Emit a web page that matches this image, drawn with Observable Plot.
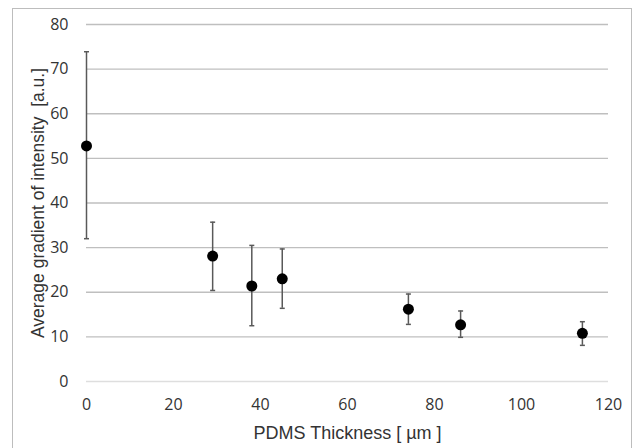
<!DOCTYPE html>
<html>
<head>
<meta charset="utf-8">
<script src="https://cdn.jsdelivr.net/npm/d3@7"></script>
<script src="https://cdn.jsdelivr.net/npm/@observablehq/plot@0.6"></script>
<style>
  html, body { margin: 0; padding: 0; background: #fff; }
  #wrap { position: relative; width: 636px; height: 448px; }
  #frame { position: absolute; left: 12px; top: 8px; width: 620px; height: 460px; border: 1px solid #bdbdbd; box-sizing: border-box; pointer-events: none; }
</style>
</head>
<body>
<div id="wrap"><div id="frame"></div></div>
<script>
const thickness = [0, 29, 38, 45, 74, 86, 114];
const gradient  = [52.8, 28.1, 21.4, 23.0, 16.2, 12.7, 10.8];
const errHigh   = [73.9, 35.7, 30.5, 29.7, 19.6, 15.8, 13.4];
const errLow    = [32.0, 20.4, 12.5, 16.4, 12.8, 9.9, 8.1];
const xTicks = [0, 20, 40, 60, 80, 100, 120];
const yTicks = [0, 10, 20, 30, 40, 50, 60, 70, 80];

const data = thickness.map((x, i) => ({x, y: gradient[i], lo: errLow[i], hi: errHigh[i]}));
const capSymbol = {
  draw(ctx, size) {
    const r = Math.sqrt(size / Math.PI);
    ctx.moveTo(-r, 0); ctx.lineTo(r, 0);
  }
};

const chart = Plot.plot({
  width: 636,
  height: 448,
  marginLeft: 86,
  marginRight: 28,
  marginTop: 24,
  marginBottom: 67,
  style: {fontFamily: "'Open Sans', sans-serif", fontSize: "16px", color: "#333", background: "transparent"},
  x: {domain: [0, 120], ticks: xTicks, tickSize: 0, label: null},
  y: {domain: [0, 80], ticks: yTicks, tickSize: 0, label: null},
  marks: [
    Plot.ruleY(yTicks.filter(d => d !== 0), {stroke: "#bfbfbf", strokeWidth: 1.3, strokeOpacity: 1}),
    Plot.ruleY([0], {stroke: "#dedede", strokeWidth: 1.5}),
    Plot.axisX({ticks: xTicks, tickSize: 0, tickPadding: 17, fontSize: 16, fill: "#333", label: null}),
    Plot.axisY({ticks: yTicks, tickSize: 0, tickPadding: 18, fontSize: 16, fill: "#333", label: null}),
    Plot.ruleX(data, {x: "x", y1: "lo", y2: "hi", stroke: "#595959", strokeWidth: 1.5}),
    Plot.dot(data, {x: "x", y: "hi", symbol: capSymbol, r: 2.5, stroke: "#595959", strokeWidth: 1.5}),
    Plot.dot(data, {x: "x", y: "lo", symbol: capSymbol, r: 2.5, stroke: "#595959", strokeWidth: 1.5}),
    Plot.dot(data, {x: "x", y: "y", r: 5.5, fill: "#000", stroke: "none"}),
    Plot.text(["PDMS Thickness [ µm ]"], {frameAnchor: "bottom", dy: 57, fontSize: 18, fill: "#333", fontFamily: "'Liberation Sans', Arial, sans-serif"}),
    Plot.text(["Average gradient of intensity  [a.u.]"], {frameAnchor: "left", textAnchor: "middle", dx: -48, rotate: -90, fontSize: 17.5, fill: "#333", fontFamily: "'Liberation Sans', Arial, sans-serif"})
  ]
});
document.getElementById("wrap").insertBefore(chart, document.getElementById("frame"));
</script>
</body>
</html>
